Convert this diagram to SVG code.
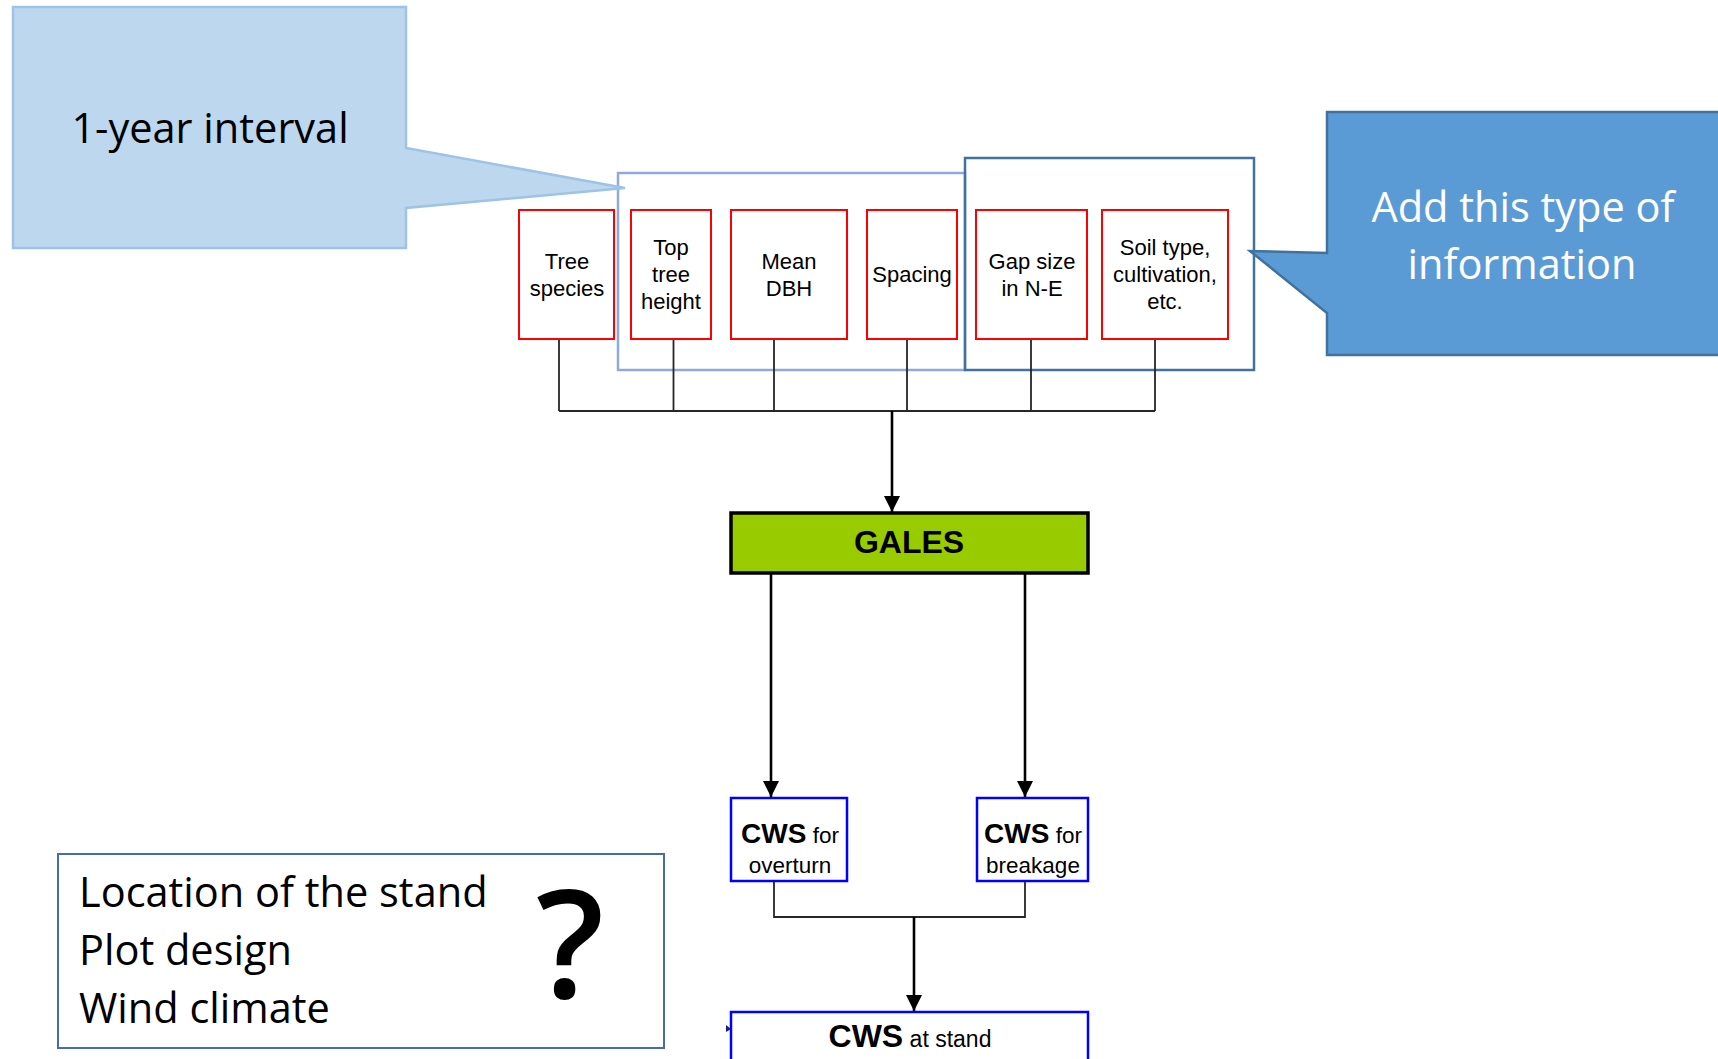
<svg xmlns="http://www.w3.org/2000/svg" width="1718" height="1059" viewBox="0 0 1718 1059">
<style>
.red{fill:#fff;stroke:#ff0000;stroke-width:2}
.blu{fill:#fff;stroke:#0000ff;stroke-width:2.5}
.t{font-family:"Liberation Sans",Arial,sans-serif;font-size:22px;fill:#000;text-anchor:middle}
.c{font-family:"Open Sans","Noto Sans",sans-serif;font-size:41.5px}
.ln{fill:none;stroke:#262626;stroke-width:1.8}
.ar{fill:none;stroke:#000;stroke-width:2.6}
.b{font-weight:bold}
</style>
<defs>
<marker id="ah" markerUnits="userSpaceOnUse" markerWidth="16" markerHeight="16" viewBox="0 0 16 16" refX="16" refY="8" orient="auto">
<path d="M0,0 L16,8 L0,16 Z" fill="#000"/>
</marker>
</defs>
<rect width="1718" height="1059" fill="#fff"/>

<g id="group-interval">
<rect x="618" y="173" width="347" height="197" fill="none" stroke="#8eaadb" stroke-width="2.5"/>
</g>
<g id="group-add">
<rect x="965" y="158" width="289" height="212" fill="none" stroke="#41719c" stroke-width="2.5"/>
</g>

<g id="connectors">
<path class="ln" d="M559,339V411M673.5,339V411M774,339V411M907,339V411M1031,339V411M1155,339V411M559,411H1155"/>
<path class="ar" d="M892,411V512" marker-end="url(#ah)"/>
<path class="ar" d="M771,573V797" marker-end="url(#ah)"/>
<path class="ar" d="M1025,573V797" marker-end="url(#ah)"/>
<path class="ln" d="M774,881V917H1025V881"/>
<path class="ar" d="M914,917V1011" marker-end="url(#ah)"/>
<path d="M726,1025L731,1029L726,1032Z" fill="#1a1a80"/>
</g>

<g id="n-tree-species">
<rect class="red" x="519" y="210" width="95" height="129"/>
<text class="t" x="567" y="268.5">Tree</text>
<text class="t" x="567" y="295.5">species</text>
</g>
<g id="n-top-tree-height">
<rect class="red" x="631" y="210" width="80" height="129"/>
<text class="t" x="671" y="255">Top</text>
<text class="t" x="671" y="282">tree</text>
<text class="t" x="671" y="309">height</text>
</g>
<g id="n-mean-dbh">
<rect class="red" x="731" y="210" width="116" height="129"/>
<text class="t" x="789" y="268.5">Mean</text>
<text class="t" x="789" y="295.5">DBH</text>
</g>
<g id="n-spacing">
<rect class="red" x="867" y="210" width="90" height="129"/>
<text class="t" x="912" y="282">Spacing</text>
</g>
<g id="n-gap-size">
<rect class="red" x="976" y="210" width="111" height="129"/>
<text class="t" x="1032" y="268.5">Gap size</text>
<text class="t" x="1032" y="295.5">in N-E</text>
</g>
<g id="n-soil-type">
<rect class="red" x="1102" y="210" width="126" height="129"/>
<text class="t" x="1165" y="255">Soil type,</text>
<text class="t" x="1165" y="282">cultivation,</text>
<text class="t" x="1165" y="309">etc.</text>
</g>

<g id="n-gales">
<rect x="731" y="513" width="357" height="60" fill="#99cc00" stroke="#000" stroke-width="3.5"/>
<text class="t b" x="909" y="553" style="font-size:32px">GALES</text>
</g>

<g id="n-cws-overturn">
<rect class="blu" x="731" y="798" width="116" height="83"/>
<text class="t" x="790" y="843" style="font-size:22.5px"><tspan class="b" style="font-size:28px">CWS</tspan> for</text>
<text class="t" x="790" y="873" style="font-size:22.5px">overturn</text>
</g>
<g id="n-cws-breakage">
<rect class="blu" x="977" y="798" width="111" height="83"/>
<text class="t" x="1033" y="843" style="font-size:22.5px"><tspan class="b" style="font-size:28px">CWS</tspan> for</text>
<text class="t" x="1033" y="873" style="font-size:22.5px">breakage</text>
</g>
<g id="n-cws-stand">
<rect class="blu" x="731" y="1012" width="357" height="70"/>
<text class="t" x="910" y="1047" style="font-size:23px"><tspan class="b" style="font-size:32px">CWS</tspan> at stand</text>
</g>

<g id="callout-interval">
<path d="M13,7H406V148L625,188L406,208V248H13Z" fill="#bdd7ee" stroke="#9dc3e6" stroke-width="2.5"/>
<text class="c" x="210" y="143" text-anchor="middle" fill="#000">1-year interval</text>
</g>

<g id="callout-add">
<path d="M1327,112H1730V355H1327V313L1250,251L1327,253Z" fill="#5b9bd5" stroke="#41719c" stroke-width="2.5"/>
<text class="c" x="1523" y="222" text-anchor="middle" fill="#fff">Add this type of</text>
<text class="c" x="1522" y="279" text-anchor="middle" fill="#fff">information</text>
</g>

<g id="n-questions">
<rect x="58" y="854" width="606" height="194" fill="#fff" stroke="#41719c" stroke-width="2"/>
<text class="c" x="79" y="907" fill="#000">Location of the stand</text>
<text class="c" x="79" y="965" fill="#000">Plot design</text>
<text class="c" x="79" y="1023" fill="#000">Wind climate</text>
<text class="c" x="570" y="998" text-anchor="middle" fill="#000" style="font-size:150px;font-weight:600">?</text>
</g>
</svg>
